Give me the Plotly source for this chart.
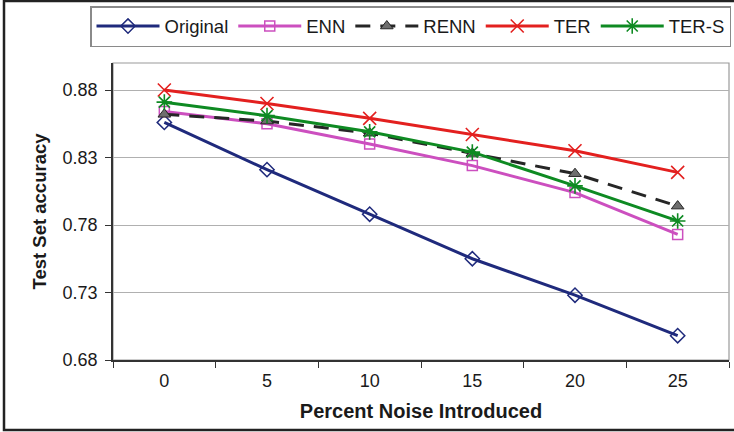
import plotly.graph_objects as go

# Noise levels (percent) and test-set accuracy for each method
noise = ["0", "5", "10", "15", "20", "25"]
original = [0.856, 0.821, 0.788, 0.755, 0.728, 0.698]
enn = [0.864, 0.855, 0.840, 0.824, 0.804, 0.773]
renn = [0.862, 0.857, 0.848, 0.833, 0.818, 0.794]
ter = [0.880, 0.870, 0.859, 0.847, 0.835, 0.819]
ter_s = [0.871, 0.861, 0.849, 0.834, 0.809, 0.783]

y_ticks = [0.68, 0.73, 0.78, 0.83, 0.88]

FONT = "Liberation Sans, Arial, sans-serif"

series = [
    ("Original", original, dict(color="#1f2a7c", width=3),
     dict(symbol="diamond-open", size=11, color="#1f2a7c", line=dict(width=1.5, color="#1f2a7c"))),
    ("ENN", enn, dict(color="#cc4fbf", width=3),
     dict(symbol="square-open", size=10, color="#cc4fbf", line=dict(width=1.5, color="#cc4fbf"))),
    ("RENN", renn, dict(color="#262626", width=3, dash="15px,10px"),
     dict(symbol="triangle-up", size=11, color="#6e6e6e", line=dict(width=1, color="#262626"))),
    ("TER", ter, dict(color="#e3201f", width=3),
     dict(symbol="x-thin-open", size=13, color="#e3201f", line=dict(width=1.6, color="#e3201f"))),
    ("TER-S", ter_s, dict(color="#0e8a22", width=3),
     dict(symbol="asterisk-open", size=13, color="#0e8a22", line=dict(width=1.6, color="#0e8a22"))),
]

fig = go.Figure()
for name, vals, line, marker in series:
    fig.add_trace(go.Scatter(
        x=noise, y=vals, name=name, mode="lines+markers",
        line=line, marker=marker,
    ))

W, H = 734, 432
L, R, T, B = 113, 5, 63, 72
pw, ph = W - L - R, H - T - B


def px_x(px):
    return (px - L) / pw


def px_y(py):
    return (H - B - py) / ph


fig.update_layout(
    width=W, height=H,
    margin=dict(l=L, r=R, t=T, b=B),
    paper_bgcolor="white", plot_bgcolor="white",
    font=dict(family=FONT, size=18, color="#1a1a1a"),
    showlegend=True,
    legend=dict(
        orientation="h",
        x=px_x(90), y=px_y(6), xanchor="left", yanchor="top",
        bordercolor="#8a8a8a", borderwidth=1.5, bgcolor="white",
        font=dict(family=FONT, size=18.5, color="#1a1a1a"),
        itemwidth=63, tracegroupgap=0,
    ),
    xaxis=dict(
        type="category", range=[-0.5, 5.5], tickson="boundaries",
        ticks="outside", ticklen=6, tickcolor="#333", tickwidth=1.2,
        showline=True, linecolor="#333", linewidth=1.5,
        showgrid=False, zeroline=False,
        tickfont=dict(size=18), ticklabelstandoff=4,
        title=dict(text="<b>Percent Noise Introduced</b>", font=dict(size=20), standoff=14),
    ),
    yaxis=dict(
        range=[0.68, 0.90], tickvals=y_ticks, tickformat=".2f",
        ticks="outside", ticklen=6, tickcolor="#333", tickwidth=1.2,
        showline=True, linecolor="#333", linewidth=1.5,
        showgrid=True, gridcolor="#b0b0b0", gridwidth=1.2, zeroline=False,
        tickfont=dict(size=18), ticklabelstandoff=4,
        title=dict(text="<b>Test Set accuracy</b>", font=dict(size=18.5), standoff=11),
    ),
    shapes=[
        # plot-area frame (top and right edges in grey)
        dict(type="rect", xref="paper", yref="paper", x0=0, x1=1, y0=0, y1=1,
             line=dict(color="#9a9a9a", width=1.2), layer="below"),
        # outer chart frame
        dict(type="rect", xref="paper", yref="paper",
             x0=px_x(4), x1=px_x(745), y0=px_y(430), y1=px_y(1),
             line=dict(color="#222", width=2.5)),
    ],
)

fig.write_html("out.html")
